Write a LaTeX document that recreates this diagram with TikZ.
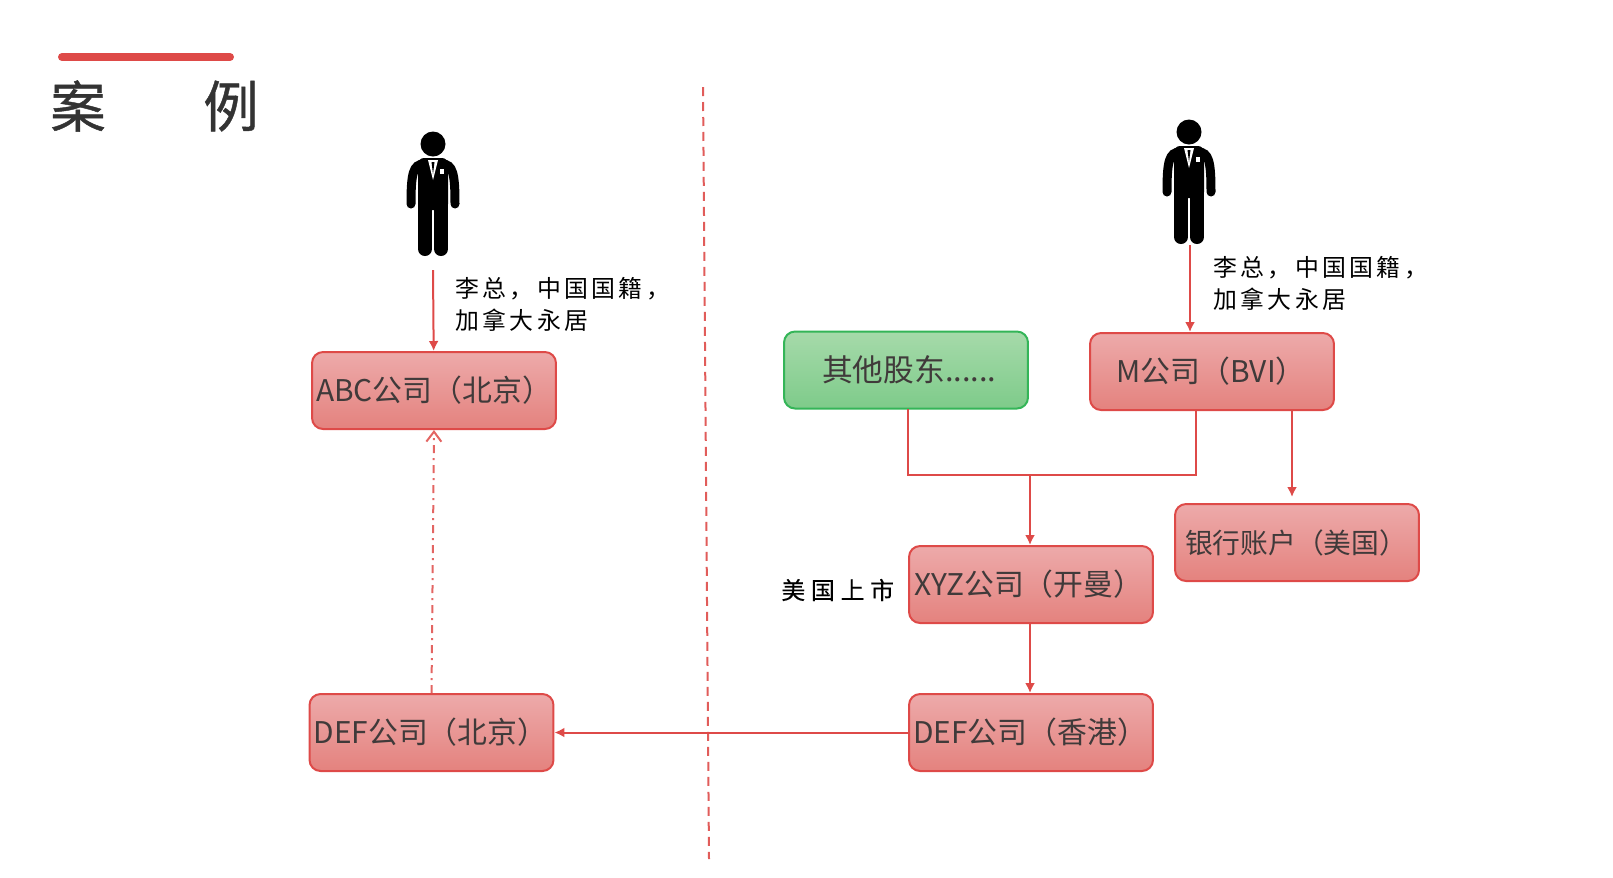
\documentclass[tikz,border=0pt]{standalone}
\usepackage{fontspec}
\setmainfont{Noto Sans CJK SC}
\newfontfamily\notefont[LetterSpace=14]{Noto Sans CJK SC}
\newfontfamily\listedfont[LetterSpace=24,FakeBold=0.3]{Noto Sans CJK SC}
\newfontfamily\titlefont[FakeBold=0.8]{Noto Sans CJK SC}
\usepackage{tikz}
\usetikzlibrary{arrows.meta,positioning,shapes.geometric}
\usepackage{xcolor}
\definecolor{caseline}{RGB}{222,74,72}
\definecolor{redtop}{RGB}{237,170,170}
\definecolor{redbot}{RGB}{228,130,126}
\definecolor{greentop}{RGB}{166,218,170}
\definecolor{greenbot}{RGB}{126,203,138}
\definecolor{greenline}{RGB}{52,181,88}
\definecolor{boxtext}{RGB}{64,58,58}

\begin{document}
\begin{tikzpicture}[
  x=0.02cm, y=-0.02cm,
  every node/.style={font=\fontsize{17pt}{20pt}\selectfont, text=boxtext},
  redbox/.style={draw=caseline, line width=.04cm, rounded corners=.22cm,
                 text width=4.88cm, align=left,
                 minimum height=1.54cm, inner sep=0pt,
                 top color=redtop, bottom color=redbot},
  greenbox/.style={redbox, draw=greenline, top color=greentop, bottom color=greenbot},
  note/.style={font=\notefont\fontsize{13.6pt}{18.2pt}\selectfont, text=black,
               align=left, inner sep=0pt, anchor=west},
  titlechar/.style={font=\titlefont\fontsize{31.5pt}{36pt}\selectfont, text=black!80},
  link/.style={draw=caseline, line width=.04cm, -{Latex[length=.2cm,width=.2cm]}},
  plainlink/.style={draw=caseline, line width=.04cm},
  pics/person/.style={code={
    \fill (0,0) circle[radius=.25cm];
    \fill[rounded corners=.12cm] (-15,14) -- (15,14) -- (15,66) -- (-15,66) -- cycle;
    \draw[line width=.18cm, line cap=round] (-9,20) .. controls (-20,20) and (-22,30) .. (-22,60);
    \draw[line width=.18cm, line cap=round] (9,20) .. controls (20,20) and (22,30) .. (22,60);
    \draw[line width=.28cm, line cap=round] (-8,50) -- (-8,105);
    \draw[line width=.28cm, line cap=round] (8,50) -- (8,105);
    \fill[white] (-5,16) -- (5,16) -- (0,36) -- cycle;
    \fill (-1.5,18) -- (1.5,18) -- (0,30) -- cycle;
    \fill[white] (6.5,25) rectangle (11,30);
  }}
]
\useasboundingbox (0,0) rectangle (1613,877);

% title
\coordinate (barl) at (62,57);
\coordinate (barr) at (230,57);
\draw[caseline, line width=.16cm, line cap=round] (barl) -- (barr);
\node[titlechar] (an) at (78,106)  {案};
\node[titlechar] (li) at (231,106) {例};

% divider
\coordinate (divtop) at (703,87);
\coordinate (divbot) at (709,859);
\draw[caseline!90, line width=.04cm, dash pattern=on .18cm off .12cm] (divtop) -- (divbot);

% persons
\pic at (433,144) {person};
\pic at (1189,132) {person};

% boxes
\node[redbox]   (abc)   at (434,390.5)  {\hspace*{.08cm}ABC公司（北京）};
\node[redbox]   (defbj) at (431.5,732.5){\hspace*{.08cm}DEF公司（北京）};
\node[greenbox] (other) at (906,370)    {\hspace*{.76cm}\fontsize{17.5pt}{20pt}\selectfont 其他股东......};
\node[redbox]   (mco)   at (1212,371.5) {\hspace*{.53cm}M公司（BVI）};
\node[redbox]   (bank)  at (1297,542.5) {\hspace*{.2cm}\fontsize{15.8pt}{20pt}\selectfont 银行账户（美国）};
\node[redbox]   (xyz)   at (1031,584.5) {\hspace*{.1cm}XYZ公司（开曼）};
\node[redbox]   (defhk) at (1031,732.5) {\hspace*{.08cm}DEF公司（香港）};

% notes
\node[note] (li1) at (455,304) {李总，中国国籍，\\加拿大永居};
\node[note] (li2) at (1213,283) {李总，中国国籍，\\加拿大永居};
\node[note, font=\listedfont\fontsize{13.6pt}{18pt}\selectfont] (listed) at (781,590) {美国上市};

% connectors
\coordinate (p1) at (433,270);
\coordinate (p2) at (1190,245);
\coordinate (junc) at (1030,475);
\coordinate (gdown) at (908,409);
\coordinate (mleft) at (1196,410);
\coordinate (mright) at (1292,410);
\coordinate (bankin) at (1292,497);
\draw[link] (p1) -- (abc);
\draw[link] (p2) -- (p2 |- mco.north);
\draw[plainlink] (gdown) |- (junc) -| (mleft);
\draw[link] (junc) -- (junc |- xyz.north);
\draw[link] (mright) -- (bankin);
\draw[link] (junc |- xyz.south) -- (junc |- defhk.north);
\draw[link] (defhk) -- (defbj);
\draw[draw=caseline!85, line width=.04cm, dash pattern=on .16cm off .1cm on .04cm off .1cm,
      -{Straight Barb[length=.2cm,width=.3cm]}] (defbj.north) -- (abc.south);

\end{tikzpicture}
\end{document}
